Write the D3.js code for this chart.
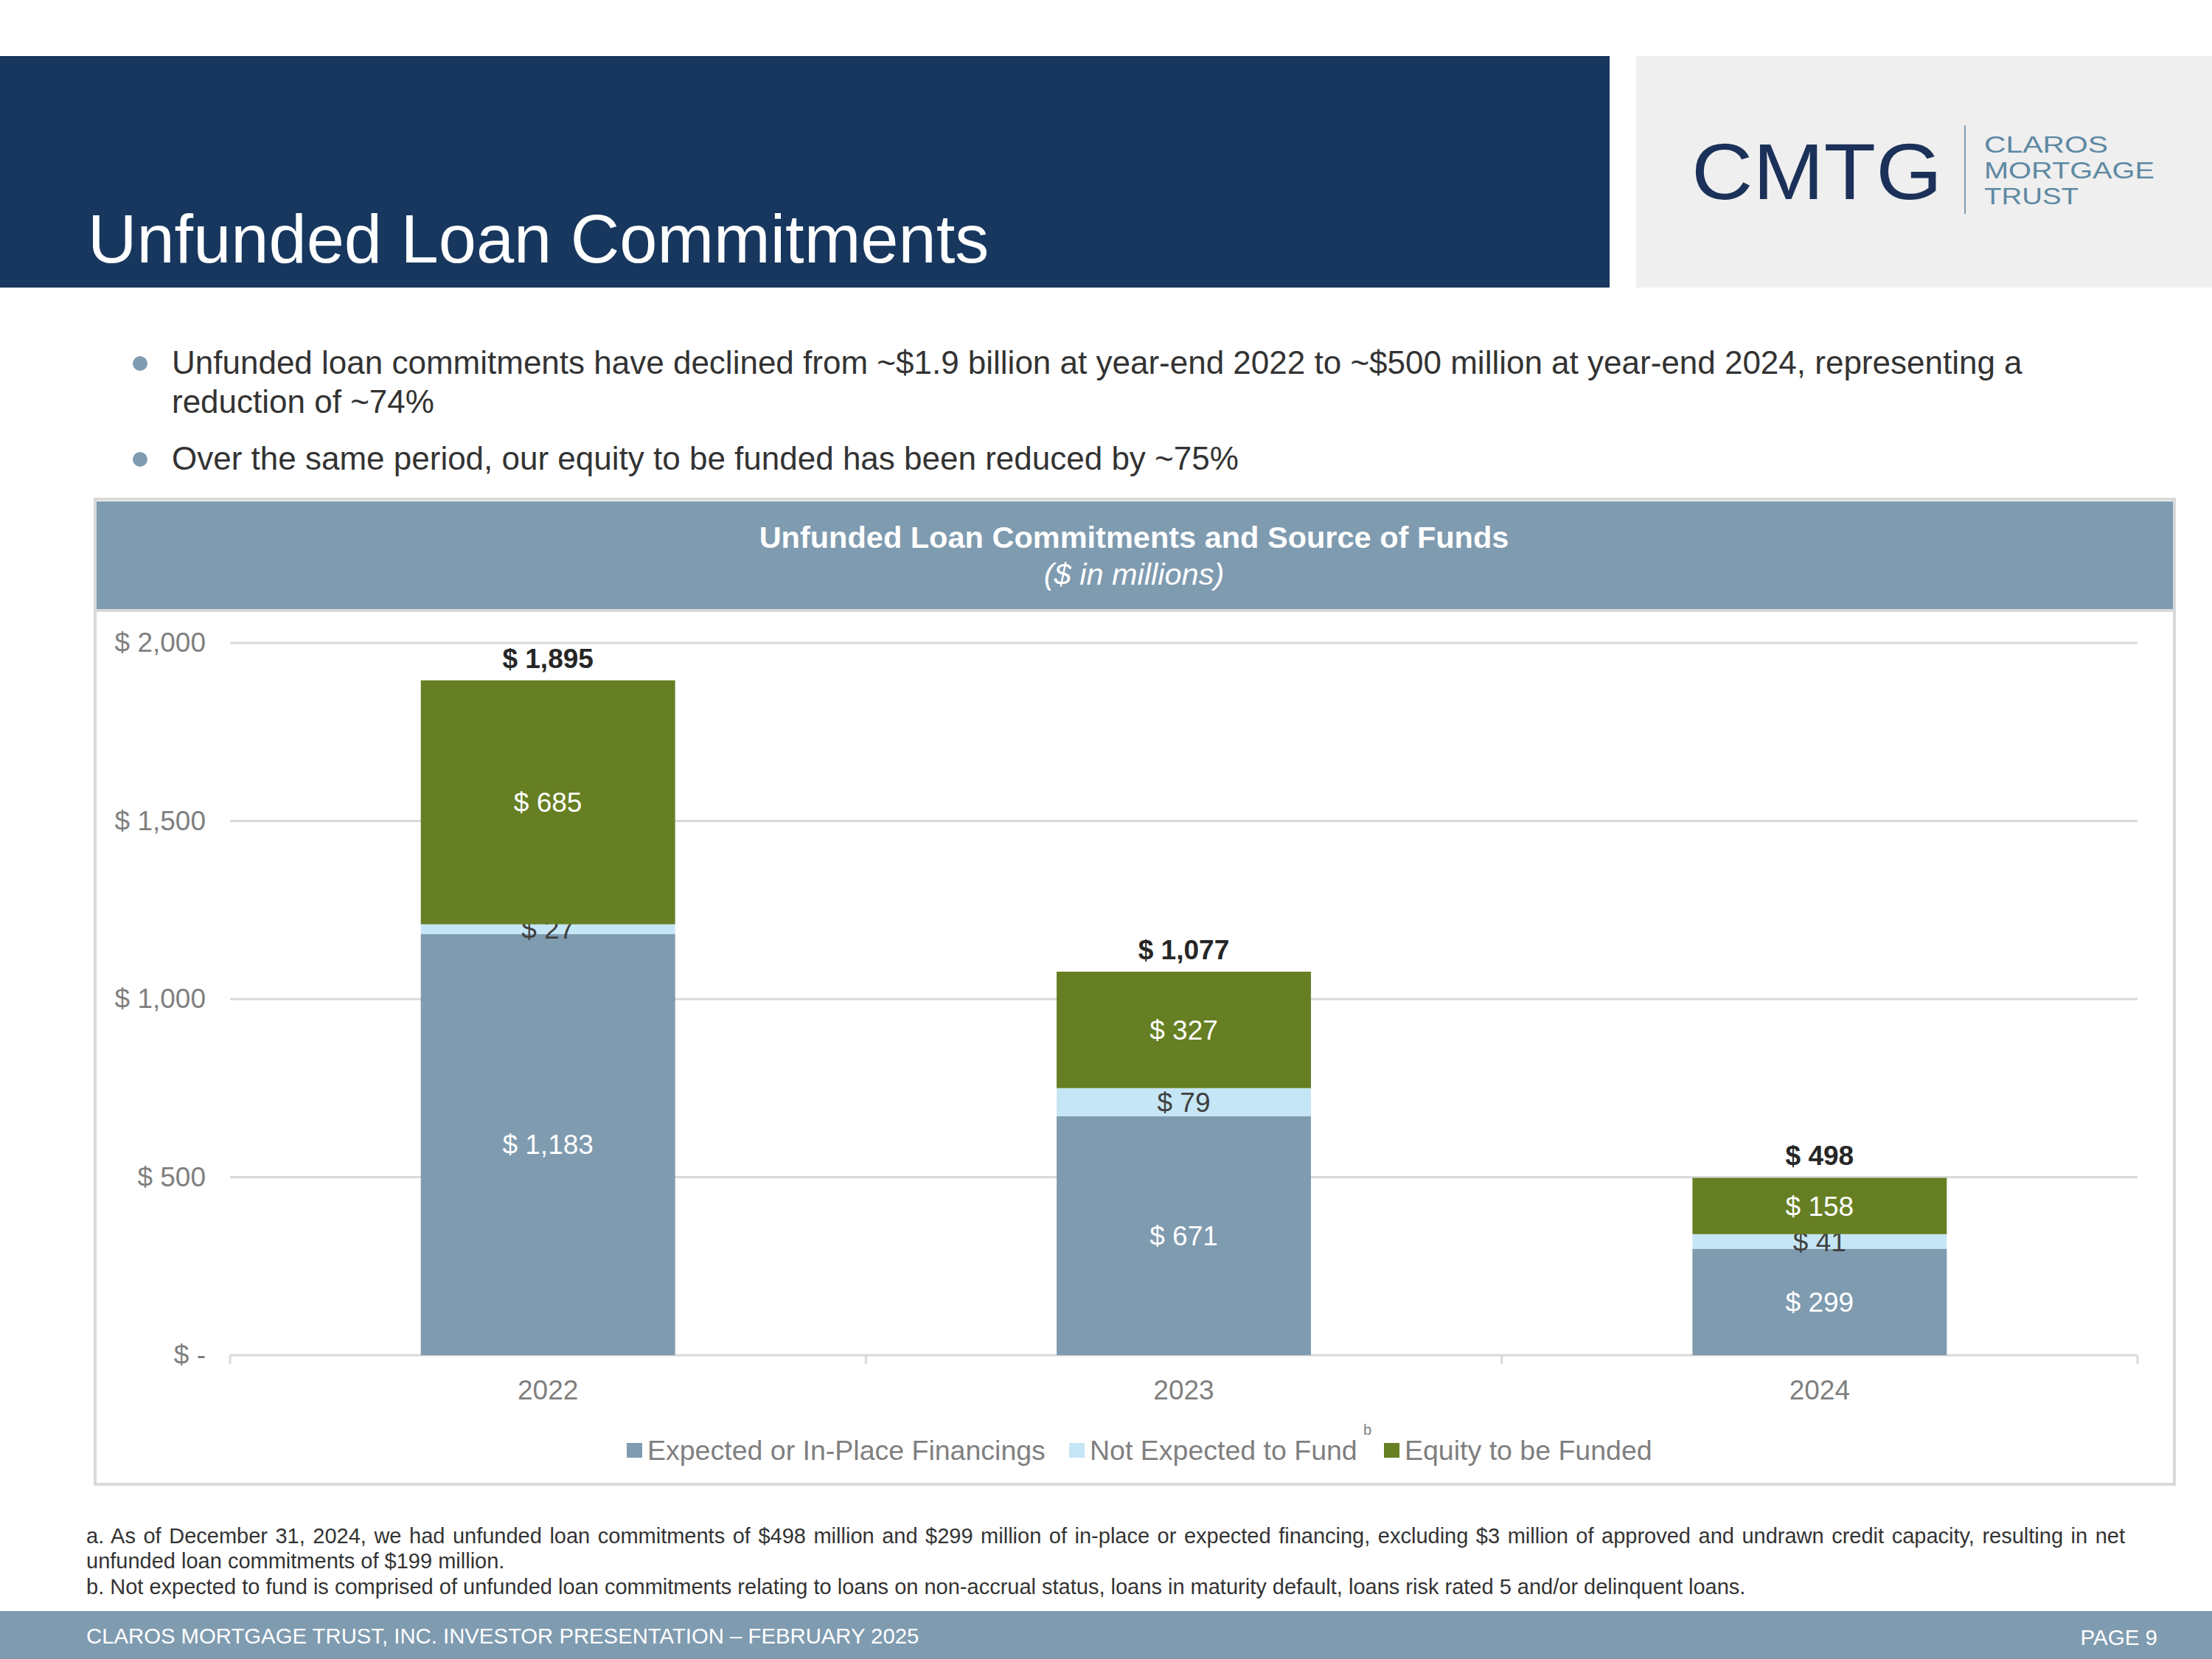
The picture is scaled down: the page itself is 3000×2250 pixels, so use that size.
<!DOCTYPE html>
<html>
<head>
<meta charset="utf-8">
<script src="https://cdn.jsdelivr.net/npm/d3@7"></script>
<style>
  body { margin: 0; background: #fff; }
  svg { display: block; font-family: "Liberation Sans", Arial, sans-serif; }
</style>
</head>
<body>
<div id="chart"></div>
<script>
// chart data
const years = ["2022", "2023", "2024"];
const financings = [1183, 671, 299];
const notExpected = [27, 79, 41];
const equity = [685, 327, 158];
const totals = [1895, 1077, 498];
const yTicks = [0, 500, 1000, 1500, 2000];
const seriesNames = ["Expected or In-Place Financings", "Not Expected to Fund", "Equity to be Funded"];
const seriesKeys = ["fin", "notExp", "eq"];

const bullets = [
    ["Unfunded loan commitments have declined from ~$1.9 billion at year-end 2022 to ~$500 million at year-end 2024, representing a",
     "reduction of ~74%"],
    ["Over the same period, our equity to be funded has been reduced by ~75%"]
];
const footA = ["a. As of December 31, 2024, we had unfunded loan commitments of $498 million and $299 million of in-place or expected financing, excluding $3 million of approved and undrawn credit capacity, resulting in net",
    "unfunded loan commitments of $199 million."];
const footB = "b. Not expected to fund is comprised of unfunded loan commitments relating to loans on non-accrual status, loans in maturity default, loans risk rated 5 and/or delinquent loans.";

const colors = {fin: "#7F9BB0", notExp: "#C5E6F5", eq: "#667F23"};
const labelColors = {fin: "#ffffff", notExp: "#404040", eq: "#ffffff"};

const W = 3000, H = 2250;
const svg = d3.select("#chart").append("svg")
    .attr("width", W)
    .attr("height", H);

// ---- page header ----
svg.append("rect").attr("x", 0).attr("y", 76).attr("width", 2183).attr("height", 314).attr("fill", "#17375E");
svg.append("text").attr("x", 119).attr("y", 356)
    .attr("fill", "#fff").attr("font-size", 92)
    .text("Unfunded Loan Commitments");

svg.append("rect").attr("x", 2219).attr("y", 76).attr("width", 781).attr("height", 314).attr("fill", "#EFEFEF");
svg.append("text").attr("x", 2294).attr("y", 270)
    .attr("fill", "#1B3159").attr("font-size", 107)
    .attr("textLength", 340).attr("lengthAdjust", "spacingAndGlyphs")
    .text("CMTG");
svg.append("line").attr("x1", 2665).attr("x2", 2665).attr("y1", 170).attr("y2", 290)
    .attr("stroke", "#7F9BB0").attr("stroke-width", 2);
const logoWords = ["CLAROS", "MORTGAGE", "TRUST"];
const logoWidths = [168, 231, 128];
logoWords.forEach((t, i) => {
    svg.append("text").attr("x", 2691).attr("y", 207 + i * 35)
        .attr("fill", "#5E89A3").attr("font-size", 32)
        .attr("textLength", logoWidths[i]).attr("lengthAdjust", "spacingAndGlyphs")
        .text(t);
});

// ---- bullets ----
let by = 507;
bullets.forEach((lines, bi) => {
    svg.append("circle").attr("cx", 190).attr("cy", by - 14).attr("r", 10).attr("fill", "#7F9BB0");
    lines.forEach((l, li) => {
        svg.append("text").attr("x", 233).attr("y", by + li * 53)
            .attr("fill", "#333").attr("font-size", 44)
            .text(l);
    });
    by += 130;
});

// ---- chart box ----
svg.append("rect").attr("x", 129).attr("y", 677).attr("width", 2820).attr("height", 1336)
    .attr("fill", "#fff").attr("stroke", "#D9D9D9").attr("stroke-width", 4);
svg.append("rect").attr("x", 131).attr("y", 680).attr("width", 2816).attr("height", 146).attr("fill", "#7F9BB0");
svg.append("line").attr("x1", 131).attr("x2", 2947).attr("y1", 828).attr("y2", 828)
    .attr("stroke", "#D9D9D9").attr("stroke-width", 4);
svg.append("text").attr("x", 1538).attr("y", 743).attr("text-anchor", "middle")
    .attr("fill", "#fff").attr("font-size", 41.5).attr("font-weight", "bold")
    .text("Unfunded Loan Commitments and Source of Funds");
svg.append("text").attr("x", 1538).attr("y", 793).attr("text-anchor", "middle")
    .attr("fill", "#fff").attr("font-size", 41.5).attr("font-style", "italic")
    .text("($ in millions)");

// ---- plot ----
const plot = {left: 312, right: 2899, top: 872, bottom: 1838};
const xScale = d3.scaleBand().domain(years).range([plot.left, plot.right]).paddingInner(0.6).paddingOuter(0.3);
const yScale = d3.scaleLinear().domain([0, 2000]).range([plot.bottom, plot.top]);
const fmt = v => v === 0 ? "$ -" : "$ " + d3.format(",")(v);

const g = svg.append("g");

// gridlines
g.selectAll(".grid").data(yTicks.filter(d => d > 0)).join("line")
    .attr("class", "grid")
    .attr("x1", plot.left).attr("x2", plot.right)
    .attr("y1", d => yScale(d)).attr("y2", d => yScale(d))
    .attr("stroke", "#D9D9D9").attr("stroke-width", 3);

// y axis labels
const yAxis = d3.axisLeft(yScale).tickValues(yTicks).tickFormat(fmt).tickSize(0).tickPadding(33);
g.append("g").attr("transform", `translate(${plot.left},0)`).call(yAxis)
    .call(a => a.select(".domain").remove())
    .selectAll("text").attr("font-size", 37).attr("fill", "#7F7F7F")
    .attr("font-family", "Liberation Sans, Arial, sans-serif");

// x axis
const xOuter = d3.scaleLinear().domain([0, 3]).range([plot.left, plot.right]);
g.append("line").attr("x1", plot.left).attr("x2", plot.right)
    .attr("y1", plot.bottom).attr("y2", plot.bottom)
    .attr("stroke", "#D9D9D9").attr("stroke-width", 3);
g.selectAll(".xtick").data(d3.range(4)).join("line")
    .attr("class", "xtick")
    .attr("x1", d => xOuter(d)).attr("x2", d => xOuter(d))
    .attr("y1", plot.bottom).attr("y2", plot.bottom + 12)
    .attr("stroke", "#D9D9D9").attr("stroke-width", 3);
g.selectAll(".xlab").data(years).join("text")
    .attr("class", "xlab")
    .attr("x", d => xScale(d) + xScale.bandwidth() / 2)
    .attr("y", 1898)
    .attr("text-anchor", "middle").attr("font-size", 37).attr("fill", "#7F7F7F")
    .text(d => d);

// stacked bars
const table = years.map((y, i) => ({year: y, fin: financings[i], notExp: notExpected[i], eq: equity[i]}));
const stacked = d3.stack().keys(seriesKeys)(table);

const layer = g.selectAll(".layer").data(stacked).join("g").attr("class", "layer");
layer.selectAll("rect").data(s => s.map(d => ({key: s.key, d}))).join("rect")
    .attr("x", e => xScale(e.d.data.year))
    .attr("width", xScale.bandwidth())
    .attr("y", e => yScale(e.d[1]))
    .attr("height", e => yScale(e.d[0]) - yScale(e.d[1]))
    .attr("fill", e => colors[e.key]);

layer.selectAll(".seglab").data(s => s.map(d => ({key: s.key, d}))).join("text")
    .attr("class", "seglab")
    .attr("x", e => xScale(e.d.data.year) + xScale.bandwidth() / 2)
    .attr("y", e => yScale((e.d[0] + e.d[1]) / 2))
    .attr("dy", "0.35em")
    .attr("text-anchor", "middle").attr("font-size", 37)
    .attr("fill", e => labelColors[e.key])
    .text(e => fmt(e.d[1] - e.d[0]));

g.selectAll(".total").data(years).join("text")
    .attr("class", "total")
    .attr("x", d => xScale(d) + xScale.bandwidth() / 2)
    .attr("y", (d, i) => yScale(totals[i]) - 17)
    .attr("text-anchor", "middle").attr("font-size", 37).attr("font-weight", "bold")
    .attr("fill", "#262626")
    .text((d, i) => fmt(totals[i]));

// legend
const legendX = [850, 1450, 1877];
const lg = g.selectAll(".leg").data(seriesKeys).join("g")
    .attr("class", "leg")
    .attr("transform", (d, i) => `translate(${legendX[i]},1967)`);
lg.append("rect").attr("x", 0).attr("y", -10).attr("width", 21).attr("height", 20)
    .attr("fill", d => colors[d]);
lg.append("text").attr("x", 28).attr("y", 13)
    .attr("font-size", 37.5).attr("fill", "#7F7F7F")
    .text((d, i) => seriesNames[i]);
svg.append("text").attr("x", 1849).attr("y", 1946)
    .attr("font-size", 20).attr("fill", "#7F7F7F").text("b");

// ---- footnotes ----
const fa1 = svg.append("text").attr("x", 117).attr("y", 2093)
    .attr("font-size", 29).attr("fill", "#333").text(footA[0]);
const len = fa1.node().getComputedTextLength();
const spaces = footA[0].split(" ").length - 1;
fa1.attr("word-spacing", Math.max(0, (2882 - 117 - len) / spaces));
svg.append("text").attr("x", 117).attr("y", 2127)
    .attr("font-size", 29).attr("fill", "#333").text(footA[1]);
svg.append("text").attr("x", 117).attr("y", 2162)
    .attr("font-size", 29).attr("fill", "#333").text(footB);

// ---- footer ----
svg.append("rect").attr("x", 0).attr("y", 2185).attr("width", W).attr("height", 65).attr("fill", "#7F9BB0");
svg.append("text").attr("x", 117).attr("y", 2229)
    .attr("font-size", 29.3).attr("fill", "#fff")
    .text("CLAROS MORTGAGE TRUST, INC. INVESTOR PRESENTATION – FEBRUARY 2025");
svg.append("text").attr("x", 2926).attr("y", 2231).attr("text-anchor", "end")
    .attr("font-size", 29.5).attr("fill", "#fff")
    .text("PAGE 9");
</script>
</body>
</html>
